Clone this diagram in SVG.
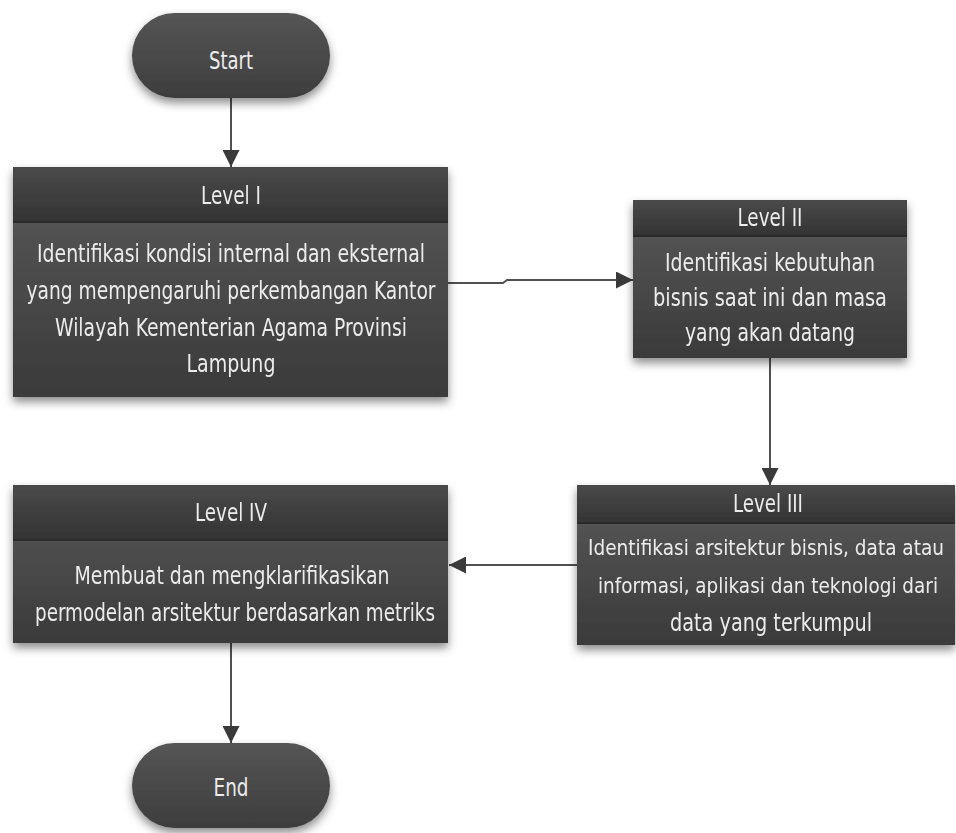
<svg xmlns="http://www.w3.org/2000/svg" width="956" height="833" viewBox="0 0 956 833">
<style>
.t{font-family:"DejaVu Sans Condensed","Liberation Sans",sans-serif;fill:#ececec;text-anchor:middle;font-size:24px}
.s{font-size:21px}
.c{fill:none;stroke:#505050;stroke-width:2}
</style>
<defs>
<linearGradient id="gb" x1="0" y1="0" x2="0" y2="1"><stop offset="0" stop-color="#5a5a5a"/><stop offset="1" stop-color="#3a3a3a"/></linearGradient>
<linearGradient id="gh" x1="0" y1="0" x2="0" y2="1"><stop offset="0" stop-color="#4a4a4a"/><stop offset="1" stop-color="#333"/></linearGradient>
<linearGradient id="gp" x1="0" y1="0" x2="0" y2="1"><stop offset="0" stop-color="#555"/><stop offset="1" stop-color="#3d3d3d"/></linearGradient>
<filter id="sh" x="-10%" y="-10%" width="120%" height="130%"><feDropShadow dx="0" dy="5" stdDeviation="5" flood-color="#000" flood-opacity="0.45"/></filter>
<marker id="ar" viewBox="0 0 10 10" refX="10" refY="5" markerWidth="18" markerHeight="17" markerUnits="userSpaceOnUse" orient="auto"><path d="M0 0L10 5L0 10z" fill="#3a3a3a"/></marker>
</defs>
<rect width="956" height="833" fill="#fff"/>
<g id="connectors">
<path class="c" d="M231 98V167" marker-end="url(#ar)"/>
<path class="c" d="M448 283H503L507 280H633" marker-end="url(#ar)"/>
<path class="c" d="M770 358V485" marker-end="url(#ar)"/>
<path class="c" d="M577 565H449" marker-end="url(#ar)"/>
<path class="c" d="M231 643V743" marker-end="url(#ar)"/>
</g>
<g id="start">
<rect x="132" y="13" width="198" height="85" rx="42.5" fill="url(#gp)" filter="url(#sh)"/>
<text class="t" x="231" y="69" textLength="44" lengthAdjust="spacingAndGlyphs">Start</text>
</g>
<g id="level1" filter="url(#sh)">
<rect x="13" y="167" width="435" height="230" fill="url(#gb)"/>
<rect x="13" y="167" width="435" height="55" fill="url(#gh)"/>
<line x1="13" y1="222" x2="448" y2="222" stroke="#2a2a2a" stroke-width="2"/>
<text class="t" x="231" y="204" textLength="60" lengthAdjust="spacingAndGlyphs">Level I</text>
<text class="t" x="231" y="262" textLength="388" lengthAdjust="spacingAndGlyphs">Identifikasi kondisi internal dan eksternal</text>
<text class="t" x="231" y="299" textLength="409" lengthAdjust="spacingAndGlyphs">yang mempengaruhi perkembangan Kantor</text>
<text class="t" x="231" y="336" textLength="352" lengthAdjust="spacingAndGlyphs">Wilayah Kementerian Agama Provinsi</text>
<text class="t" x="231" y="372" textLength="89" lengthAdjust="spacingAndGlyphs">Lampung</text>
</g>
<g id="level2" filter="url(#sh)">
<rect x="633" y="200" width="274" height="158" fill="url(#gb)"/>
<rect x="633" y="200" width="274" height="36" fill="url(#gh)"/>
<line x1="633" y1="236" x2="907" y2="236" stroke="#2a2a2a" stroke-width="2"/>
<text class="t" x="770" y="226" textLength="65" lengthAdjust="spacingAndGlyphs">Level II</text>
<text class="t" x="770" y="271" textLength="210" lengthAdjust="spacingAndGlyphs">Identifikasi kebutuhan</text>
<text class="t" x="770" y="306" textLength="234" lengthAdjust="spacingAndGlyphs">bisnis  saat ini dan masa</text>
<text class="t" x="770" y="341" textLength="170" lengthAdjust="spacingAndGlyphs">yang akan datang</text>
</g>
<g id="level3" filter="url(#sh)">
<rect x="577" y="485" width="378" height="160" fill="url(#gb)"/>
<rect x="577" y="485" width="378" height="38" fill="url(#gh)"/>
<line x1="577" y1="523" x2="955" y2="523" stroke="#2a2a2a" stroke-width="2"/>
<text class="t" x="768" y="512" textLength="70" lengthAdjust="spacingAndGlyphs">Level III</text>
<text class="t s" x="766" y="555" textLength="356" lengthAdjust="spacingAndGlyphs">Identifikasi arsitektur bisnis,  data atau</text>
<text class="t s" x="768" y="593" textLength="340" lengthAdjust="spacingAndGlyphs">informasi, aplikasi dan teknologi dari</text>
<text class="t" x="771" y="631" textLength="202" lengthAdjust="spacingAndGlyphs">data  yang terkumpul</text>
</g>
<g id="level4" filter="url(#sh)">
<rect x="13" y="485" width="435" height="158" fill="url(#gb)"/>
<rect x="13" y="485" width="435" height="55" fill="url(#gh)"/>
<line x1="13" y1="540" x2="448" y2="540" stroke="#2a2a2a" stroke-width="2"/>
<text class="t" x="231" y="521" textLength="72" lengthAdjust="spacingAndGlyphs">Level IV</text>
<text class="t" x="232" y="584" textLength="315" lengthAdjust="spacingAndGlyphs">Membuat dan mengklarifikasikan</text>
<text class="t" x="235" y="621" textLength="400" lengthAdjust="spacingAndGlyphs">permodelan arsitektur berdasarkan metriks</text>
</g>
<g id="end">
<rect x="132" y="743" width="198" height="85" rx="42.5" fill="url(#gp)" filter="url(#sh)"/>
<text class="t" x="231" y="796" textLength="35" lengthAdjust="spacingAndGlyphs">End</text>
</g>
</svg>
